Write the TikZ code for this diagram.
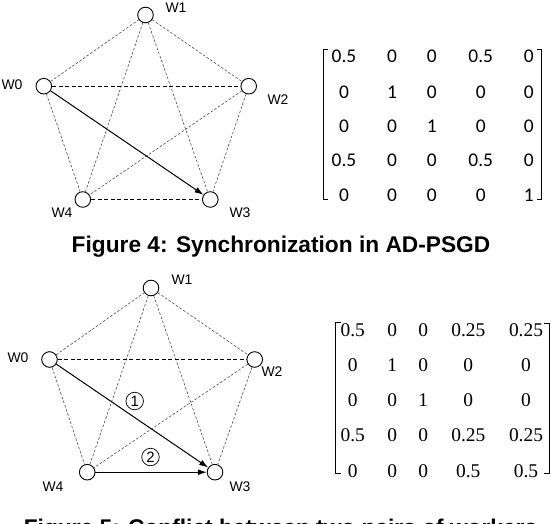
\documentclass[tikz,border=0pt]{standalone}
\usepackage{fontspec}
\setmainfont{Liberation Sans}
\newfontfamily\carl{Carlito}
\newfontfamily\lser{Liberation Serif}
\usetikzlibrary{arrows.meta}
\begin{document}
\begin{tikzpicture}[x=1bp,y=-1bp,
  wnode/.style={circle,draw=black,line width=0.9bp,fill=white,minimum size=15.6bp,inner sep=0pt},
  wlab/.style={font=\fontsize{14}{14}\selectfont,inner sep=0pt},
  edge/.style={line width=0.55bp,dash pattern=on 2.6bp off 1.8bp,draw=black!75},
  hedge/.style={line width=0.7bp,dash pattern=on 4bp off 2.5bp,draw=black},
  arr/.style={line width=1bp,-{Latex[length=9bp,width=6bp]}},
  mtop/.style={font=\carl\fontsize{19.5}{19.5}\selectfont,inner sep=0pt},
  mbot/.style={font=\lser\fontsize{19.5}{19.5}\selectfont,inner sep=0pt},
  brk/.style={line width=1bp},
  cnum/.style={circle,draw=black,line width=0.7bp,minimum size=17.5bp,inner sep=0pt,font=\fontsize{15}{15}\selectfont},
  captxt/.style={font=\bfseries\fontsize{22.8}{22.8}\selectfont,inner sep=0pt}]
\useasboundingbox (0,0) rectangle (552,524);

% ---------- Figure 4 graph ----------
\coordinate (a0) at (43.8,86.2);
\coordinate (a1) at (145.5,15);
\coordinate (a2) at (248.7,86.2);
\coordinate (a3) at (210.3,199.5);
\coordinate (a4) at (82.8,199.5);
\node[wnode] (A0) at (a0) {};
\node[wnode] (A1) at (a1) {};
\node[wnode] (A2) at (a2) {};
\node[wnode] (A3) at (a3) {};
\node[wnode] (A4) at (a4) {};
\draw[edge] (A0) -- (A1);
\draw[edge] (A1) -- (A2);
\draw[edge] (A2) -- (A3);
\draw[edge] (A0) -- (A4);
\draw[edge] (A1) -- (A3);
\draw[edge] (A1) -- (A4);
\draw[edge] (A2) -- (A4);
\draw[hedge] (A0) -- (A2);
\draw[hedge] (A4) -- (A3);
\draw[arr] (A0) -- (A3);
\node[wlab] (LA0) at (12,85) {W0};
\node[wlab] (LA1) at (176,7.5) {W1};
\node[wlab] (LA2) at (278,100) {W2};
\node[wlab] (LA3) at (240,212.5) {W3};
\node[wlab] (LA4) at (62,212.5) {W4};

% ---------- Figure 4 matrix ----------
\foreach \r/\y in {1/56.2,2/92.3,3/126.7,4/160.7,5/195.3}{
  \foreach \c/\x in {1/344,2/392,3/431.7,4/480.7,5/528.7}{
    \coordinate (t\r\c) at (\x,\y);
  }
}
\node[mtop] (T11) at (t11) {0.5};
\node[mtop] (T12) at (t12) {0};
\node[mtop] (T13) at (t13) {0};
\node[mtop] (T14) at (t14) {0.5};
\node[mtop] (T15) at (t15) {0};
\node[mtop] (T21) at (t21) {0};
\node[mtop] (T22) at (t22) {1};
\node[mtop] (T23) at (t23) {0};
\node[mtop] (T24) at (t24) {0};
\node[mtop] (T25) at (t25) {0};
\node[mtop] (T31) at (t31) {0};
\node[mtop] (T32) at (t32) {0};
\node[mtop] (T33) at (t33) {1};
\node[mtop] (T34) at (t34) {0};
\node[mtop] (T35) at (t35) {0};
\node[mtop] (T41) at (t41) {0.5};
\node[mtop] (T42) at (t42) {0};
\node[mtop] (T43) at (t43) {0};
\node[mtop] (T44) at (t44) {0.5};
\node[mtop] (T45) at (t45) {0};
\node[mtop] (T51) at (t51) {0};
\node[mtop] (T52) at (t52) {0};
\node[mtop] (T53) at (t53) {0};
\node[mtop] (T54) at (t54) {0};
\node[mtop] (T55) at (t55) {1};
\draw[brk] (328.3,50) -- (323.3,50) -- (323.3,200) -- (328.3,200);
\draw[brk] (536.7,50) -- (541.7,50) -- (541.7,200) -- (536.7,200);

\node[captxt] (C4) at (281,247) {Figure 4: Synchronization in AD-PSGD};

% ---------- Figure 5 graph ----------
\coordinate (b0) at (49.5,359.5);
\coordinate (b1) at (151,288);
\coordinate (b2) at (254.7,359.5);
\coordinate (b3) at (215,472.2);
\coordinate (b4) at (87.2,472.2);
\node[wnode] (B0) at (b0) {};
\node[wnode] (B1) at (b1) {};
\node[wnode] (B2) at (b2) {};
\node[wnode] (B3) at (b3) {};
\node[wnode] (B4) at (b4) {};
\draw[edge] (B0) -- (B1);
\draw[edge] (B1) -- (B2);
\draw[edge] (B2) -- (B3);
\draw[edge] (B0) -- (B4);
\draw[edge] (B1) -- (B3);
\draw[edge] (B1) -- (B4);
\draw[edge] (B2) -- (B4);
\draw[hedge] (B0) -- (B2);
\draw[arr] (B0) -- (B3);
\draw[arr] (B4) -- (B3);
\node[wlab] (LB0) at (18,358) {W0};
\node[wlab] (LB1) at (182,280) {W1};
\node[wlab] (LB2) at (272,372) {W2};
\node[wlab] (LB3) at (240,487) {W3};
\node[wlab] (LB4) at (53,487) {W4};
\node[cnum] (N1) at (134.7,401) {1};
\node[cnum] (N2) at (150.5,457) {2};

% ---------- Figure 5 matrix ----------
\foreach \r/\y in {1/329.7,2/365.3,3/400,4/435,5/470.7}{
  \foreach \c/\x in {1/352.7,2/392.3,3/423.3,4/468.3,5/526}{
    \coordinate (u\r\c) at (\x,\y);
  }
}
\node[mbot] (U11) at (u11) {0.5};
\node[mbot] (U12) at (u12) {0};
\node[mbot] (U13) at (u13) {0};
\node[mbot] (U14) at (u14) {0.25};
\node[mbot] (U15) at (u15) {0.25};
\node[mbot] (U21) at (u21) {0};
\node[mbot] (U22) at (u22) {1};
\node[mbot] (U23) at (u23) {0};
\node[mbot] (U24) at (u24) {0};
\node[mbot] (U25) at (u25) {0};
\node[mbot] (U31) at (u31) {0};
\node[mbot] (U32) at (u32) {0};
\node[mbot] (U33) at (u33) {1};
\node[mbot] (U34) at (u34) {0};
\node[mbot] (U35) at (u35) {0};
\node[mbot] (U41) at (u41) {0.5};
\node[mbot] (U42) at (u42) {0};
\node[mbot] (U43) at (u43) {0};
\node[mbot] (U44) at (u44) {0.25};
\node[mbot] (U45) at (u45) {0.25};
\node[mbot] (U51) at (u51) {0};
\node[mbot] (U52) at (u52) {0};
\node[mbot] (U53) at (u53) {0};
\node[mbot] (U54) at (u54) {0.5};
\node[mbot] (U55) at (u55) {0.5};
\draw[brk] (340.5,322) -- (335,322) -- (335,473.3) -- (340.5,473.3);
\draw[brk] (544.3,323.3) -- (549.3,323.3) -- (549.3,473.3) -- (544.3,473.3);

\node[captxt,anchor=base] (C5) at (280.5,535.5) {Figure 5: Conflict between two pairs of workers};
\end{tikzpicture}
\end{document}
